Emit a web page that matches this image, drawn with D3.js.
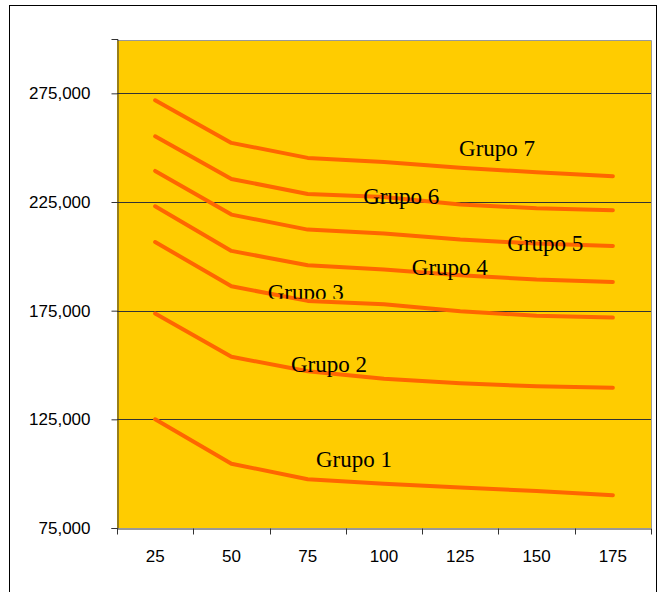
<!DOCTYPE html>
<html>
<head>
<meta charset="utf-8">
<script src="https://cdn.jsdelivr.net/npm/d3@7"></script>
<style>
  html, body { margin: 0; padding: 0; background: #ffffff; }
  svg { display: block; }
</style>
</head>
<body>
<svg id="chart" width="659" height="592"></svg>
<script>
// Categories on the horizontal axis
const categories = [25, 50, 75, 100, 125, 150, 175];

// One series per group
const grupo1 = [125000, 104600, 97400, 95400, 93600, 92000, 90100];
const grupo2 = [173700, 153800, 147100, 143700, 141600, 140200, 139500];
const grupo3 = [206600, 186200, 179500, 177900, 174700, 172700, 171800];
const grupo4 = [223000, 202500, 195900, 193900, 191300, 189300, 188200];
const grupo5 = [239300, 219200, 212300, 210500, 207700, 205900, 204800];
const grupo6 = [255200, 235600, 228700, 227300, 223900, 222100, 221200];
const grupo7 = [271800, 252200, 245300, 243400, 240800, 238700, 236900];

const seriesNames = ["Grupo 1", "Grupo 2", "Grupo 3", "Grupo 4", "Grupo 5", "Grupo 6", "Grupo 7"];
const seriesValues = [grupo1, grupo2, grupo3, grupo4, grupo5, grupo6, grupo7];

// Y axis ticks
const yTicks = [75000, 125000, 175000, 225000, 275000];

// Where each group's name sits, in data units [category position, value]
const labelAnchors = [
  [77.7, 102900],
  [69.5, 146600],
  [61.9, 179800],
  [109.1, 191600],
  [140.4, 202300],
  [93.2, 224300],
  [124.6, 246300]
];

const svg = d3.select("#chart");
const plot = { left: 117, right: 651, top: 40, bottom: 528 };

// Outer chart frame
svg.append("rect")
  .attr("x", 9.5).attr("y", 5.5)
  .attr("width", 647).attr("height", 600)
  .attr("fill", "#ffffff").attr("stroke", "#000000").attr("stroke-width", 1);

const x = d3.scaleBand().domain(categories).range([plot.left, plot.right]).padding(0);
const xc = d => x(d) + x.bandwidth() / 2;
const xLin = d3.scaleLinear()
  .domain([categories[0], categories[categories.length - 1]])
  .range([xc(categories[0]), xc(categories[categories.length - 1])]);
const y = d3.scaleLinear().domain([75000, 300000]).range([plot.bottom, plot.top - 1]);

// Plot area fill with grey border on top and right
svg.append("rect")
  .attr("x", plot.left).attr("y", plot.top)
  .attr("width", plot.right - plot.left).attr("height", plot.bottom - plot.top)
  .attr("fill", "#FFCC00");
svg.append("path")
  .attr("d", `M${plot.left},${plot.top + 0.5}H${plot.right + 0.5}V${plot.bottom}`)
  .attr("fill", "none").attr("stroke", "#999999").attr("stroke-width", 1);

// Horizontal gridlines
svg.append("g")
  .selectAll("line")
  .data(yTicks.filter(t => t > 75000))
  .join("line")
  .attr("x1", plot.left).attr("x2", plot.right)
  .attr("y1", d => Math.round(y(d)) + 0.5).attr("y2", d => Math.round(y(d)) + 0.5)
  .attr("stroke", "#333333").attr("stroke-width", 1);

// Y axis
const yAxis = svg.append("g")
  .attr("transform", `translate(${plot.left + 0.5},0)`)
  .call(d3.axisLeft(y).tickValues(yTicks).tickFormat(d3.format(",")).tickSize(6).tickPadding(21));
yAxis.select(".domain").attr("stroke", "#333333");
yAxis.selectAll(".tick line").attr("stroke", "#333333");
yAxis.selectAll("text")
  .attr("fill", "#000000")
  .style("font-family", "'Liberation Sans', Arial, sans-serif")
  .style("font-size", "17px");

// X axis: labels centred in each band, tick marks on band edges
const xAxis = svg.append("g")
  .attr("transform", `translate(0,${plot.bottom + 0.5})`)
  .call(d3.axisBottom(x).tickSize(0).tickPadding(21).tickSizeOuter(0));
xAxis.select(".domain").attr("stroke", "#333333");
xAxis.selectAll("text")
  .attr("fill", "#000000")
  .style("font-family", "'Liberation Sans', Arial, sans-serif")
  .style("font-size", "17px");
const edges = categories.map(c => x(c)).concat([x(categories[categories.length - 1]) + x.bandwidth()]);
xAxis.selectAll(".edge")
  .data(edges)
  .join("line")
  .attr("class", "edge")
  .attr("x1", d => Math.round(d) + 0.5).attr("x2", d => Math.round(d) + 0.5)
  .attr("y1", 0).attr("y2", 6)
  .attr("stroke", "#333333");

// Series lines
const line = d3.line()
  .x((d, i) => xc(categories[i]))
  .y(d => y(d));

svg.append("g")
  .selectAll("path")
  .data(seriesValues)
  .join("path")
  .attr("d", line)
  .attr("fill", "none")
  .attr("stroke", "#FF6600")
  .attr("stroke-width", 4)
  .attr("stroke-linecap", "round")
  .attr("stroke-linejoin", "round");

// The "Grupo 3" caption is cut along its baseline
svg.append("clipPath").attr("id", "cut3")
  .append("rect")
  .attr("x", plot.left).attr("y", plot.top)
  .attr("width", plot.right - plot.left)
  .attr("height", y(labelAnchors[2][1]) - plot.top - 1.5);

// Group captions
svg.append("g")
  .selectAll("text")
  .data(seriesNames)
  .join("text")
  .attr("x", (d, i) => xLin(labelAnchors[i][0]))
  .attr("y", (d, i) => y(labelAnchors[i][1]))
  .attr("clip-path", (d, i) => i === 2 ? "url(#cut3)" : null)
  .attr("fill", "#000000")
  .style("font-family", "'Liberation Serif', 'Times New Roman', serif")
  .style("font-size", "23px")
  .text(d => d);
</script>
</body>
</html>
